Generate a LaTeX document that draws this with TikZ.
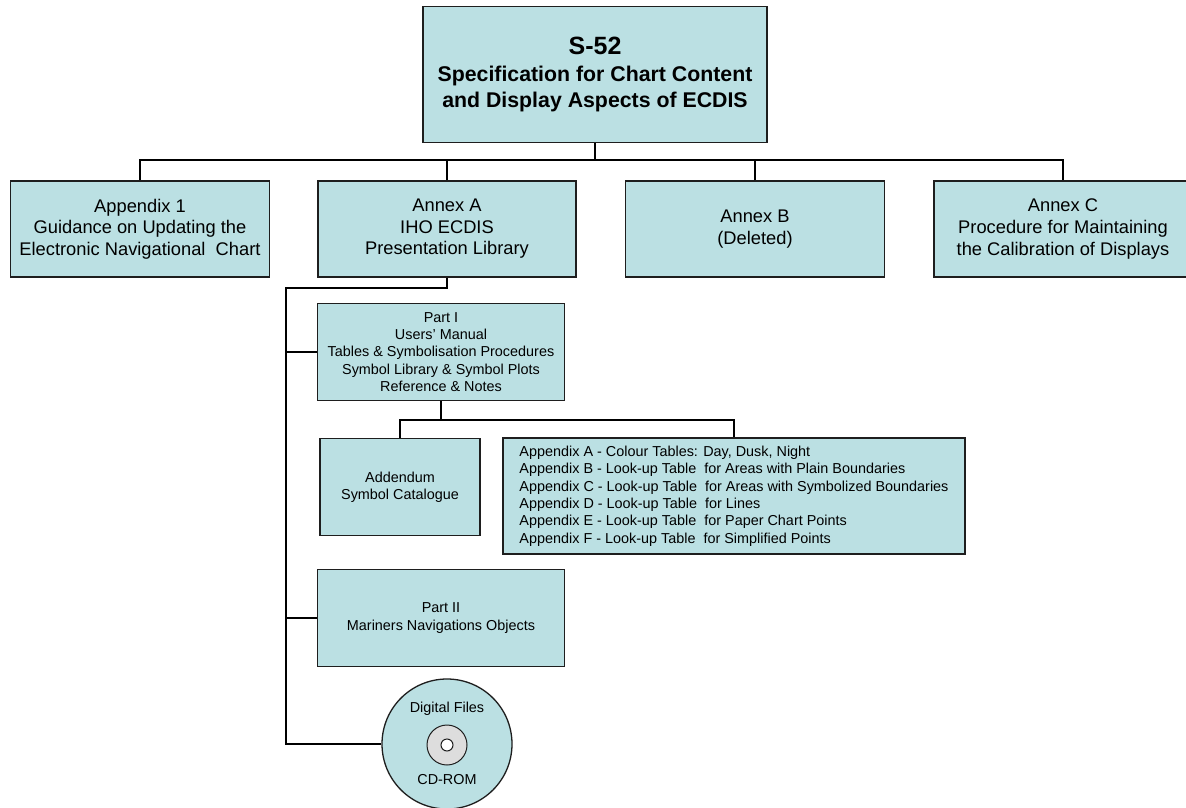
\documentclass[tikz,border=0pt]{standalone}
\usepackage{fontspec}
\setmainfont{Liberation Sans}
\definecolor{boxfill}{RGB}{187,224,227}
\definecolor{discgray}{RGB}{221,221,221}
\definecolor{edge}{RGB}{30,30,30}
\tikzset{
  box/.style={draw=edge, line width=1.3pt, fill=boxfill, align=center, inner sep=2pt},
  big/.style={font=\fontsize{18.3}{21.6}\selectfont},
  small/.style={font=\fontsize{14.4}{17.4}\selectfont},
  link/.style={draw=black, line width=1.2pt},
}
\begin{document}
\begin{tikzpicture}[x=1pt,y=-1pt]
\useasboundingbox (0,0) rectangle (1186,808);
\fill[white] (0,0) rectangle (1186,808);
% top
\node[box, font=\fontsize{21.3}{26}\selectfont\bfseries, minimum width=344pt, minimum height=136pt] (top) at (595,74.5)
  {{\fontsize{25}{28}\selectfont S-52}\\[1pt]
   Specification for Chart Content\\
   and Display Aspects of ECDIS};
% second row
\node[box, big, minimum width=259pt, minimum height=96pt] (app1) at (140,229)
  {Appendix 1\\Guidance on Updating the\\Electronic Navigational~ Chart};
\node[box, big, minimum width=258pt, minimum height=96pt] (anxa) at (447,229)
  {Annex A\\IHO ECDIS\\Presentation Library};
\node[box, big, minimum width=259pt, minimum height=96pt] (anxb) at (755,229)
  {Annex B\\(Deleted)};
\node[box, big, minimum width=258pt, minimum height=96pt] (anxc) at (1063,229)
  {Annex C\\Procedure for Maintaining\\the Calibration of Displays};
% part I etc
\node[box, small, minimum width=247pt, minimum height=97pt] (p1) at (441,352)
  {Part I\\Users' Manual\\Tables \& Symbolisation Procedures\\Symbol Library \& Symbol Plots\\Reference \& Notes};
\node[box, small, minimum width=160pt, minimum height=97pt] (add) at (400,487)
  {Addendum\\Symbol Catalogue};
\node[box, small, align=left, minimum width=462pt, minimum height=116pt] (apx) at (734,496)
  {Appendix A - Colour Tables: Day, Dusk, Night\\
   Appendix B - Look-up Table~ for Areas with Plain Boundaries\\
   Appendix C - Look-up Table~ for Areas with Symbolized Boundaries\\
   Appendix D - Look-up Table~ for Lines\\
   Appendix E - Look-up Table~ for Paper Chart Points\\
   Appendix F - Look-up Table~ for Simplified Points};
\node[box, small, minimum width=247pt, minimum height=97pt] (p2) at (441,618)
  {Part II\\Mariners Navigations Objects};
% CD
\node[circle, draw=edge, line width=1.3pt, fill=boxfill, minimum size=130pt, inner sep=0pt] (cd) at (447,744) {};
\node[circle, draw=edge, line width=1pt, fill=discgray, minimum size=40pt, inner sep=0pt] (disc) at (447,745) {};
\node[circle, draw=edge, line width=1pt, fill=white, minimum size=12pt, inner sep=0pt] (hole) at (447,745) {};
\node[small, inner sep=0pt] (cdt1) at (447,709) {Digital Files};
\node[small, inner sep=0pt] (cdt2) at (447,780) {CD-ROM};
% coordinates
\coordinate (bus) at (595,160);
\coordinate (aa) at (447,288);
\coordinate (spine) at (286,288);
\coordinate (p1b) at (441,420);
% connectors
\draw[link] (top.south) -- (bus);
\draw[link] (app1.north) |- (bus) -| (anxc.north);
\draw[link] (anxa.north) -- (anxa.north |- bus);
\draw[link] (anxb.north) -- (anxb.north |- bus);
\draw[link] (anxa.south) -- (aa) -- (spine) |- (cd.west);
\draw[link] (spine |- p1.west) -- (p1.west);
\draw[link] (spine |- p2.west) -- (p2.west);
\draw[link] (p1.south) -- (p1b);
\draw[link] (add.north) |- (p1b) -| (apx.north);
\end{tikzpicture}
\end{document}
